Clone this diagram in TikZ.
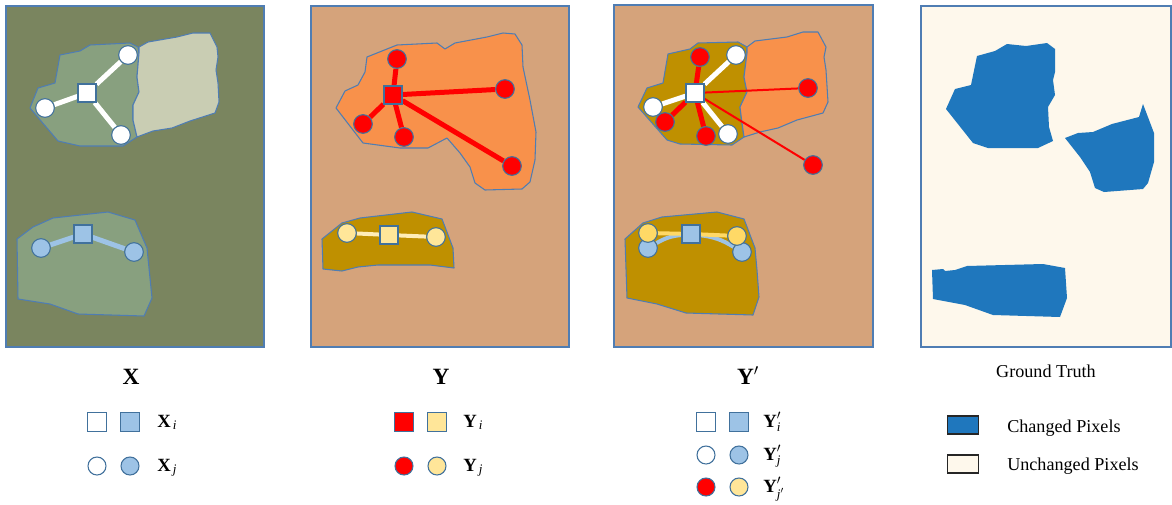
\documentclass[tikz,border=0pt]{standalone}
\usepackage{fontspec}
\setmainfont{Liberation Serif}
\usepackage{amsmath}
\definecolor{bgX}{HTML}{7A855F}
\definecolor{regG}{HTML}{88A07F}
\definecolor{regL}{HTML}{C9CDB3}
\definecolor{tanb}{HTML}{D5A37B}
\definecolor{orng}{HTML}{F8914B}
\definecolor{gold}{HTML}{BF9000}
\definecolor{lblue}{HTML}{9DC3E6}
\definecolor{nbord}{HTML}{41719C}
\definecolor{pbord}{HTML}{4F7DB3}
\definecolor{lyel}{HTML}{FFE699}
\definecolor{dyel}{HTML}{FFD966}
\definecolor{cream}{HTML}{FEF8EC}
\definecolor{gtblue}{HTML}{1F77BD}
\pgfdeclarelayer{back}
\pgfdeclarelayer{mid}
\pgfsetlayers{back,mid,main}
\tikzset{
  panel/.style={draw=pbord, line width=0.8pt},
  region/.style={draw=pbord, line width=0.8pt, line join=round},
  sq/.style={rectangle, draw=nbord, line width=0.8pt, minimum size=13.5pt, inner sep=0pt},
  cir/.style={circle, draw=nbord, line width=0.8pt, minimum size=14pt, inner sep=0pt},
  lsq/.style={rectangle, draw=nbord, line width=0.8pt, minimum size=14.25pt, inner sep=0pt},
  lcir/.style={circle, draw=nbord, line width=0.8pt, minimum size=13.5pt, inner sep=0pt},
  thickln/.style={line width=3.75pt},
  thinln/.style={line width=1.5pt},
  title/.style={anchor=base, inner sep=0pt, font=\fontsize{17.5}{20}\selectfont\bfseries},
  lab/.style={anchor=base west, inner sep=0pt, font=\fontsize{14}{16}\selectfont},
  gtlab/.style={anchor=base west, inner sep=0pt, font=\fontsize{13.6}{16}\selectfont},
  gtbox/.style={rectangle, draw=black!85, line width=0.8pt, minimum width=23.25pt, minimum height=13.5pt, inner sep=0pt}
}
\begin{document}
\begin{tikzpicture}[x=0.75pt, y=-0.75pt]
\useasboundingbox (0,0) rectangle (1172,504);

\begin{pgfonlayer}{back}
% ---------- Panel X ----------
\fill[white] (0,0) rectangle (1172,504);
\filldraw[panel, fill=bgX] (6,6) rectangle (264,347);
\filldraw[region, fill=regG] (60,55) -- (80,51) -- (90,45) -- (130,43) -- (138,47) -- (139,53) -- (137,77) -- (139,92) -- (133,105) -- (133,120) -- (137,137) -- (123,146) -- (80,146) -- (58,141) -- (30,108) -- (38,88) -- (55,83) -- cycle;
\filldraw[region, fill=regL] (139,47) -- (148,42) -- (177,37) -- (193,33) -- (210,33) -- (217,47) -- (218,57) -- (216,70) -- (218,83) -- (219,102) -- (215,113) -- (190,121) -- (172,128) -- (153,131) -- (137,137) -- (133,120) -- (133,105) -- (139,92) -- (137,77) -- (139,53) -- cycle;
\filldraw[region, fill=regG] (17,239) -- (33,227) -- (53,218) -- (108,212) -- (135,220) -- (147,248) -- (152,298) -- (144,316) -- (78,314) -- (50,304) -- (18,299) -- cycle;

% ---------- Panel Y ----------
\filldraw[panel, fill=tanb] (311,6) rectangle (569,347);
\filldraw[region, fill=orng] (367,57) -- (397,45) -- (437,43) -- (445,49) -- (455,43) -- (487,37) -- (503,33) -- (515,34) -- (522,45) -- (523,67) -- (530,100) -- (536,132) -- (535,160) -- (530,182) -- (522,189) -- (485,190) -- (475,183) -- (470,167) -- (460,153) -- (447,138) -- (428,148) -- (400,148) -- (363,143) -- (336,108) -- (345,91) -- (358,85) -- (365,72) -- cycle;
\filldraw[region, fill=gold] (322,239) -- (342,223) -- (360,218) -- (412,212) -- (442,219) -- (453,248) -- (454,268) -- (430,265) -- (378,265) -- (358,267) -- (342,271) -- (323,269) -- cycle;

% ---------- Panel Y' ----------
\filldraw[panel, fill=tanb] (614,5) rectangle (873,347);
\filldraw[region, fill=gold] (668,54) -- (690,49) -- (698,43) -- (738,42) -- (747,47) -- (747,53) -- (744,77) -- (747,92) -- (740,107) -- (742,123) -- (744,137) -- (732,145) -- (680,144) -- (667,140) -- (638,107) -- (647,88) -- (663,83) -- cycle;
\filldraw[region, fill=orng] (747,47) -- (755,41) -- (787,37) -- (803,32) -- (818,32) -- (826,47) -- (824,57) -- (826,70) -- (828,102) -- (823,113) -- (797,120) -- (778,128) -- (760,132) -- (744,137) -- (742,123) -- (740,107) -- (747,92) -- (744,77) -- (747,53) -- cycle;
\filldraw[region, fill=gold] (625,239) -- (643,223) -- (662,217) -- (717,212) -- (744,219) -- (755,248) -- (757,270) -- (759,297) -- (753,315) -- (686,313) -- (657,304) -- (627,298) -- cycle;

% ---------- Panel Ground Truth ----------
\filldraw[panel, fill=cream] (921,6) rectangle (1171,347);
\fill[gtblue] (977,56) -- (995,51) -- (1007,44) -- (1026,46) -- (1047,43) -- (1055,49) -- (1055,72) -- (1053,80) -- (1055,95) -- (1048,107) -- (1049,127) -- (1053,141) -- (1038,148) -- (988,148) -- (973,143) -- (946,109) -- (955,89) -- (971,85) -- cycle;
\fill[gtblue] (1065,138) -- (1078,133) -- (1093,132) -- (1112,124) -- (1139,117) -- (1143,104) -- (1154,133) -- (1154,162) -- (1148,183) -- (1143,189) -- (1104,192) -- (1095,188) -- (1090,172) -- (1080,157) -- cycle;
\fill[gtblue] (932,270) -- (943,269) -- (945,271) -- (955,270) -- (967,266) -- (1043,264) -- (1065,268) -- (1067,298) -- (1060,317) -- (993,315) -- (965,305) -- (933,299) -- cycle;
\end{pgfonlayer}

% ---------- Nodes: panel X ----------
\node[sq, fill=white] (sqA) at (87,93) {};
\node[cir, fill=white] (cA1) at (128,55) {};
\node[cir, fill=white] (cA2) at (45,108) {};
\node[cir, fill=white] (cA3) at (121,135) {};
\node[sq, fill=lblue] (sqB) at (83,234) {};
\node[cir, fill=lblue] (cB1) at (41,248) {};
\node[cir, fill=lblue] (cB2) at (134,252) {};

% ---------- Nodes: panel Y ----------
\node[sq, fill=red] (sqC) at (393,95) {};
\node[cir, fill=red] (cC1) at (397,59) {};
\node[cir, fill=red] (cC2) at (363,124) {};
\node[cir, fill=red] (cC3) at (404,137) {};
\node[cir, fill=red] (cC4) at (505,89) {};
\node[cir, fill=red] (cC5) at (512,166) {};
\node[sq, fill=lyel] (sqD) at (389,235) {};
\node[cir, fill=lyel] (cD1) at (347,233) {};
\node[cir, fill=lyel] (cD2) at (436,237) {};

% ---------- Nodes: panel Y' ----------
\node[sq, fill=white] (sqE) at (695,93) {};
\node[cir, fill=white] (wE1) at (736,55) {};
\node[cir, fill=white] (wE2) at (653,107) {};
\node[cir, fill=white] (wE3) at (728,134) {};
\node[cir, fill=red] (rE1) at (700,57) {};
\node[cir, fill=red] (rE2) at (665,122) {};
\node[cir, fill=red] (rE3) at (706,136) {};
\node[cir, fill=red] (rE4) at (808,88) {};
\node[cir, fill=red] (rE5) at (813,165) {};
\node[cir, fill=lblue] (bF1) at (648,248) {};
\node[cir, fill=lblue] (bF2) at (742,252) {};
\node[cir, fill=dyel] (yF1) at (648,233) {};
\node[cir, fill=dyel] (yF2) at (737,236) {};
\node[sq, fill=lblue] (sqF) at (691,234) {};

% ---------- Connectors ----------
\begin{pgfonlayer}{mid}
\draw[thickln, white] (sqA) -- (cA1);
\draw[thickln, white] (sqA) -- (cA2);
\draw[thickln, white] (sqA) -- (cA3);
\draw[thickln, lblue] (sqB) -- (cB1);
\draw[thickln, lblue] (sqB) -- (cB2);

\draw[thickln, red] (sqC) -- (cC1);
\draw[thickln, red] (sqC) -- (cC2);
\draw[thickln, red] (sqC) -- (cC3);
\draw[thickln, red] (sqC) -- (cC4);
\draw[thickln, red] (sqC) -- (cC5);
\draw[line width=3pt, lyel!70!white] (sqD) -- (cD1);
\draw[line width=3pt, lyel!70!white] (sqD) -- (cD2);

\draw[thickln, white] (sqE) -- (wE1);
\draw[thickln, white] (sqE) -- (wE2);
\draw[thickln, white] (sqE) -- (wE3);
\draw[thickln, red] (sqE) -- (rE1);
\draw[thickln, red] (sqE) -- (rE2);
\draw[thickln, red] (sqE) -- (rE3);
\draw[thinln, red] (sqE) -- (rE4);
\draw[thinln, red] (sqE) -- (rE5);
\draw[line width=3pt, lblue] (sqF) to[bend right=12] (bF1);
\draw[line width=3pt, lblue] (sqF) to[bend left=12] (bF2);
\draw[line width=3pt, dyel] (sqF) -- (yF1);
\draw[line width=3pt, dyel] (sqF) -- (yF2);
\end{pgfonlayer}

% ---------- Titles ----------
\node[title] (tX) at (131,384) {X};
\node[title] (tY) at (441,384) {Y};
\node[title] (tYp) at (748,384) {Y$'$};
\node[anchor=base, inner sep=0pt, font=\fontsize{13.6}{16}\selectfont] (tGT) at (1046,377) {Ground Truth};

% ---------- Legend X ----------
\node[lsq, fill=white] (lX1) at (97,422) {};
\node[lsq, fill=lblue] (lX2) at (130,422) {};
\node[lcir, fill=white] (lX3) at (97,466) {};
\node[lcir, fill=lblue] (lX4) at (130,466) {};
\node[lab] (lXi) at (157,427) {$\textbf{X}_{\,\textit{i}}$};
\node[lab] (lXj) at (157,471) {$\textbf{X}_{\,\textit{j}}$};

% ---------- Legend Y ----------
\node[lsq, fill=red] (lY1) at (404,422) {};
\node[lsq, fill=lyel] (lY2) at (437,422) {};
\node[lcir, fill=red] (lY3) at (404,466) {};
\node[lcir, fill=lyel] (lY4) at (437,466) {};
\node[lab] (lYi) at (463,427) {$\textbf{Y}_{\,\textit{i}}$};
\node[lab] (lYj) at (463,471) {$\textbf{Y}_{\,\textit{j}}$};

% ---------- Legend Y' ----------
\node[lsq, fill=white] (lP1) at (706,422) {};
\node[lsq, fill=lblue] (lP2) at (739,422) {};
\node[lcir, fill=white] (lP3) at (706,455) {};
\node[lcir, fill=lblue] (lP4) at (739,455) {};
\node[lcir, fill=red] (lP5) at (706,487) {};
\node[lcir, fill=lyel] (lP6) at (739,487) {};
\node[lab] (lPi) at (763,427) {$\textbf{Y}'_{\textit{i}}$};
\node[lab] (lPj) at (763,460) {$\textbf{Y}'_{\textit{j}}$};
\node[lab] (lPjj) at (763,492) {$\textbf{Y}'_{\textit{j}'}$};

% ---------- Legend Ground Truth ----------
\node[gtbox, fill=gtblue] (gB1) at (963,425) {};
\node[gtbox, fill=cream] (gB2) at (963,464) {};
\node[gtlab] (gL1) at (1007,432) {Changed Pixels};
\node[gtlab] (gL2) at (1007,470) {Unchanged Pixels};
\end{tikzpicture}
\end{document}
